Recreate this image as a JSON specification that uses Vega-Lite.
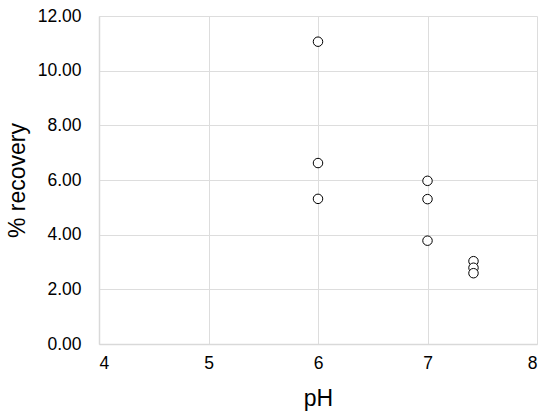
{
  "$schema": "https://vega.github.io/schema/vega-lite/v6.json",
  "autosize": "none",
  "width": 438,
  "height": 328,
  "padding": {"left": 99, "top": 16, "right": 13, "bottom": 74},
  "background": "white",
  "config": {
    "view": {"stroke": null},
    "font": "Liberation Sans"
  },
  "data": {
    "values": [
      {"pH": 6, "recovery": 11.06},
      {"pH": 6, "recovery": 6.62},
      {"pH": 6, "recovery": 5.31},
      {"pH": 7, "recovery": 5.97},
      {"pH": 7, "recovery": 5.30},
      {"pH": 7, "recovery": 3.78},
      {"pH": 7.42, "recovery": 3.03},
      {"pH": 7.42, "recovery": 2.79},
      {"pH": 7.42, "recovery": 2.59}
    ]
  },
  "mark": {"type": "point", "shape": "circle", "filled": false, "fill": "white", "fillOpacity": 1, "stroke": "black", "strokeWidth": 1, "size": 90, "opacity": 1},
  "encoding": {
    "x": {
      "field": "pH", "type": "quantitative",
      "scale": {"domain": [4, 8], "nice": false, "zero": false},
      "axis": {
        "values": [4, 5, 6, 7, 8], "format": "d", "title": "pH",
        "grid": true, "gridColor": "#dddddd", "gridWidth": 1,
        "domainColor": "#d9d9d9", "domainWidth": 1.5, "ticks": false,
        "labelFontSize": 17.5, "labelColor": "#000", "labelPadding": 10,
        "titleFontSize": 23, "titleFontWeight": "normal", "titleColor": "#000", "titlePadding": 16
      }
    },
    "y": {
      "field": "recovery", "type": "quantitative",
      "scale": {"domain": [0, 12], "nice": false},
      "axis": {
        "values": [0, 2, 4, 6, 8, 10, 12], "format": ".2f", "title": "% recovery",
        "grid": true, "gridColor": "#dddddd", "gridWidth": 1,
        "domainColor": "#d9d9d9", "domainWidth": 1.5, "ticks": false,
        "labelFontSize": 17.5, "labelColor": "#000", "labelPadding": 18,
        "titleFontSize": 23, "titleFontWeight": "normal", "titleColor": "#000", "titlePadding": 8
      }
    }
  }
}
